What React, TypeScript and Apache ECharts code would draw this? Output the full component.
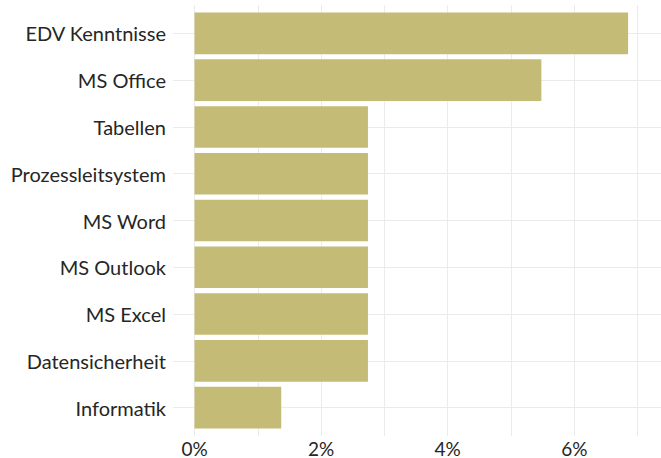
import React, { useEffect, useRef } from "react";
import * as echarts from "echarts";

const categories = [
  "EDV Kenntnisse",
  "MS Office",
  "Tabellen",
  "Prozessleitsystem",
  "MS Word",
  "MS Outlook",
  "MS Excel",
  "Datensicherheit",
  "Informatik",
];
const shares = [6.85, 5.48, 2.74, 2.74, 2.74, 2.74, 2.74, 2.74, 1.37];
const xTickLabels = [0, 2, 4, 6];

const X_MIN_EXPANDED = -0.34;
const X_MAX = 7.37;
const GRID_COLOR = "#EBEBEB";
const TEXT_COLOR = "#262626";
const FONT = "Lato";

export default function App() {
  const ref = useRef<HTMLDivElement>(null);
  useEffect(() => {
    if (!ref.current) return;
    const chart = echarts.init(ref.current, null, { renderer: "svg" });
    chart.setOption({
      animation: false,
      backgroundColor: "#ffffff",
      grid: [
        { left: 194.5, right: 0, top: 5, bottom: 22, containLabel: false },
        { left: 173, right: 0, top: 10, bottom: 27, containLabel: false },
      ],
      xAxis: [
        {
          type: "value",
          gridIndex: 0,
          min: 0,
          max: X_MAX,
          interval: 1,
          axisLine: { show: false },
          axisTick: { show: false },
          splitLine: { show: true, lineStyle: { color: GRID_COLOR, width: 1 } },
          axisLabel: {
            margin: 4,
            color: TEXT_COLOR,
            fontFamily: FONT,
            fontSize: 19,
            lineHeight: 16,
            showMaxLabel: false,
            formatter: (v: number) =>
              xTickLabels.includes(Math.round(v * 1000) / 1000) ? `${v}%` : "",
          },
        },
        {
          type: "value",
          gridIndex: 1,
          min: X_MIN_EXPANDED,
          max: X_MAX,
          show: false,
          splitLine: { show: false },
        },
      ],
      yAxis: [
        {
          type: "value",
          gridIndex: 0,
          min: 0,
          max: 1,
          show: false,
          splitLine: { show: false },
        },
        {
          type: "category",
          gridIndex: 1,
          data: categories,
          inverse: true,
          axisLine: { show: false },
          axisTick: { show: false },
          splitLine: {
            show: true,
            alignWithLabel: true,
            lineStyle: { color: GRID_COLOR, width: 1 },
          },
          axisLabel: {
            margin: 7,
            color: TEXT_COLOR,
            fontFamily: FONT,
            fontSize: 20,
          },
        },
      ],
      series: [
        {
          type: "bar",
          xAxisIndex: 1,
          yAxisIndex: 1,
          data: shares,
          barCategoryGap: "11%",
          itemStyle: { color: "#C4BC76" },
        },
      ],
    });
    return () => chart.dispose();
  }, []);
  return (
    <div
      ref={ref}
      style={{ position: "absolute", left: 0, top: 0, width: 661, height: 458 }}
    />
  );
}
